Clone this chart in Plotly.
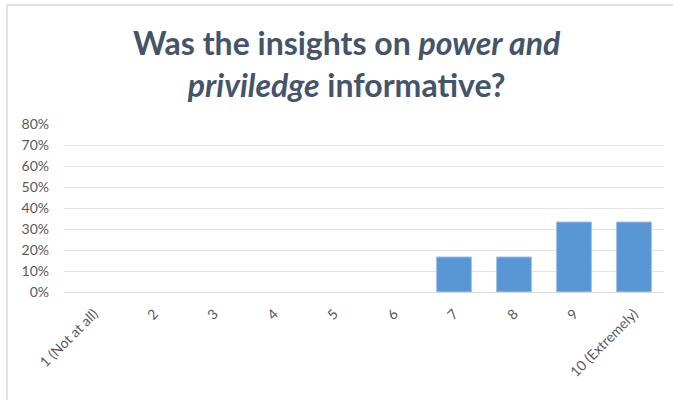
import plotly.graph_objects as go

categories = ["1 (Not at all)", "2", "3", "4", "5", "6", "7", "8", "9", "10 (Extremely)"]
values = [0, 0, 0, 0, 0, 0, 1/6, 1/6, 1/3, 1/3]
y_ticks = [0, 0.1, 0.2, 0.3, 0.4, 0.5, 0.6, 0.7, 0.8]
y_labels = ["0%", "10%", "20%", "30%", "40%", "50%", "60%", "70%", "80%"]
title_html = "<b>Was the insights on <i>power and</i><br><i>priviledge</i> informative?</b>"

fig = go.Figure()
fig.add_trace(go.Bar(
    x=categories, y=values,
    marker=dict(color="#5996d6",
                line=dict(color="#9cc2e8", width=[1 if v > 0 else 0 for v in values])),
    width=0.58,
))

L, R, T, B = 64, 9, 124, 108
W, H = 673, 400
pw, ph = W - L - R, H - T - B

def px_x(x):
    return (x - L) / pw

def px_y(y):
    return (H - B - y) / ph

fig.update_layout(
    width=W, height=H,
    margin=dict(l=L, r=R, t=T, b=B, autoexpand=False),
    paper_bgcolor="white", plot_bgcolor="white",
    showlegend=False,
    title=dict(text=title_html, x=0.515, xanchor="center", y=1 - 55/H, yanchor="middle",
               font=dict(family="Lato", size=32, color="#44546a")),
    font=dict(family="Lato", color="#595959", size=14),
    xaxis=dict(tickangle=-45, showgrid=False, showline=False, ticks="", automargin=False,
               ticklabelstandoff=10,
               tickfont=dict(family="Lato", size=14, color="#595959")),
    yaxis=dict(range=[0, 0.8], tickvals=y_ticks, ticktext=y_labels, automargin=False,
               showgrid=True, gridcolor="#e3e3e3", gridwidth=1, zeroline=True,
               zerolinecolor="#d9d9d9", zerolinewidth=1, showline=False, ticks="",
               ticklabelstandoff=14,
               tickfont=dict(family="Lato", size=14, color="#595959")),
    shapes=[
        dict(type="line", xref="paper", yref="paper",
             x0=px_x(6), x1=px_x(700), y0=px_y(5), y1=px_y(5),
             line=dict(color="#dde2e8", width=2)),
        dict(type="line", xref="paper", yref="paper",
             x0=px_x(7), x1=px_x(7), y0=px_y(4), y1=px_y(420),
             line=dict(color="#e1e5ea", width=2)),
    ],
)

fig.write_html("out.html", config={"displayModeBar": False},
               post_script="document.body.style.margin='0';")
